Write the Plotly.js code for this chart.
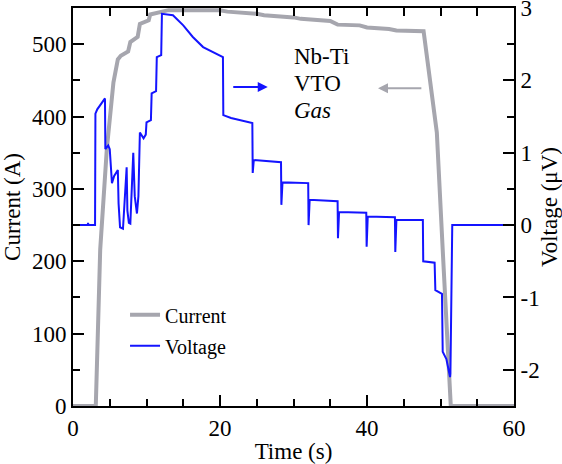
<!DOCTYPE html>
<html>
<head>
<meta charset="utf-8">
<script src="https://cdn.plot.ly/plotly-3.0.1.min.js"></script>
<style>html,body{margin:0;padding:0;background:#fff;}#chart{width:562px;height:464px;}</style>
</head>
<body>
<div id="chart"></div>
<script>
// Current (A) vs time (s)
const currentTime = [0, 3.1, 3.7, 4.6, 5.5, 6.1, 6.5, 7.5, 7.8, 8.8, 9.1, 10.3, 10.5, 11.8, 13, 20, 21, 25, 26, 30, 31, 35, 36, 39, 40, 43, 44, 47.7, 48.5, 49.5, 50.3, 51.4, 60];
const currentA    = [0, 0,   216, 355, 447, 479, 484, 490, 503, 510, 528, 533,  541,  544,  547, 547, 545, 542, 540, 537, 535, 532, 527, 526, 523, 521, 519, 518, 460, 378, 216, 0, 0];

// Voltage (µV) vs time (s)
const voltageTime = [0, 2.0, 2.05, 2.1, 3.0, 3.05, 3.3, 4.35, 4.4, 4.8, 5.0, 5.3, 5.6, 6.1, 6.2, 6.4, 6.8, 7.0, 7.3, 7.4, 7.6, 7.8, 8.0, 8.2, 8.4, 8.7, 8.9, 9.1, 9.6, 9.9, 10.0, 10.6, 10.7, 11.3, 11.4, 12.0, 12.1, 13.6, 15.0, 16.3, 17.7, 18.5, 19.6, 20.4, 20.45, 21.5, 24.4, 24.45, 24.6, 28.3, 28.35, 28.5, 32.0, 32.05, 32.2, 36.0, 36.05, 36.2, 39.9, 39.95, 40.1, 43.8, 43.85, 44.0, 47.6, 47.65, 49.2, 49.3, 50.2, 50.3, 50.8, 51.3, 51.35, 51.6, 60];
const voltageUV   = [0, 0,   0.03, 0,   0,   1.54, 1.6, 1.75, 1.05, 1.1, 1.05, 0.58, 0.68, 0.76, 0.3, -0.03, -0.05, 0.3, 0.8, 0.2, 0.03, 0.02, 0.5, 1.0, 0.4, 0.16, 0.4, 1.28, 1.2, 1.25, 1.42, 1.45, 1.82, 1.85, 2.32, 2.35, 2.92, 2.9, 2.76, 2.6, 2.46, 2.42, 2.37, 2.32, 1.52, 1.48, 1.41, 0.72, 0.9, 0.87, 0.28, 0.59, 0.58, 0.0, 0.35, 0.33, -0.18, 0.18, 0.17, -0.3, 0.12, 0.11, -0.37, 0.07, 0.07, -0.5, -0.52, -0.9, -0.95, -1.75, -1.85, -2.1, -2.05, 0, 0];

const xTickVals = [0, 20, 40, 60];
const xMinorVals = [5, 10, 15, 25, 30, 35, 45, 50, 55];
const xTopVals = [5, 10, 15, 20, 25, 30, 35, 40, 45, 50, 55];
const yTickVals = [0, 100, 200, 300, 400, 500];
const yMinorVals = [50, 150, 250, 350, 450];
const y2TickVals = [-2, -1, 0, 1, 2, 3];
const y2TickText = ["-2", "-1", "0", "1", "2", "3"];
const y2MinorVals = [-2.5, -1.5, -0.5, 0.5, 1.5, 2.5];
const labelLines = ["Nb-Ti", "VTO", "<i>Gas</i>"];
const labelY = [483, 446, 408];

const FONT = "Liberation Serif, Times New Roman, serif";
const GRAY = "#a6a6ae";
const BLUE = "#1414ff";
const X_RANGE = [0, 60], Y_RANGE = [0, 550], Y2_RANGE = [-2.5, 3];

const traces = [
  {x: currentTime, y: currentA, type: "scatter", mode: "lines", name: "Current",
   line: {color: GRAY, width: 4}, xaxis: "x", yaxis: "y", legendgroup: "a"},
  {x: voltageTime, y: voltageUV, type: "scatter", mode: "lines", name: "Voltage",
   line: {color: BLUE, width: 2}, xaxis: "x", yaxis: "y2", legendgroup: "b"},
  // empty helper traces so the tick-only axes are laid out
  {x: [], y: [], type: "scatter", mode: "lines", xaxis: "x2", yaxis: "y", showlegend: false, hoverinfo: "skip"},
  {x: [], y: [], type: "scatter", mode: "lines", xaxis: "x3", yaxis: "y", showlegend: false, hoverinfo: "skip"},
  {x: [], y: [], type: "scatter", mode: "lines", xaxis: "x", yaxis: "y3", showlegend: false, hoverinfo: "skip"},
  {x: [], y: [], type: "scatter", mode: "lines", xaxis: "x", yaxis: "y4", showlegend: false, hoverinfo: "skip"}
];

const axisCommon = {
  showline: true, linecolor: "black", linewidth: 2,
  ticks: "inside", ticklen: 11, tickwidth: 2, tickcolor: "black",
  showgrid: false, zeroline: false, ticklabeloverflow: "allow",
  tickfont: {family: FONT, size: 23, color: "black"}
};
function tickOnly(extra) {
  return Object.assign({showline: false, ticks: "inside", ticklen: 7, tickwidth: 2, tickcolor: "black",
    showgrid: false, zeroline: false, showticklabels: false, tickmode: "array"}, extra);
}

const annotations = labelLines.map((t, i) => ({
  x: 29.8, y: labelY[i], xref: "x", yref: "y", text: t, showarrow: false,
  xanchor: "left", yanchor: "middle", font: {family: FONT, size: 23, color: "black"}
}));
annotations.push({x: 26.5, y: 441, ax: 21.6, ay: 441, xref: "x", yref: "y", axref: "x", ayref: "y",
  text: "", showarrow: true, arrowhead: 2, arrowsize: 1, arrowwidth: 2, arrowcolor: BLUE});
annotations.push({x: 41.5, y: 439, ax: 47.6, ay: 439, xref: "x", yref: "y", axref: "x", ayref: "y",
  text: "", showarrow: true, arrowhead: 2, arrowsize: 1, arrowwidth: 2, arrowcolor: GRAY});

const layout = {
  width: 562, height: 464,
  margin: {l: 73, r: 48, t: 8, b: 58},
  paper_bgcolor: "white", plot_bgcolor: "white",
  font: {family: FONT, size: 23, color: "black"},
  showlegend: true,
  legend: {x: 0.118, y: 0.278, xanchor: "left", yanchor: "top", bgcolor: "rgba(0,0,0,0)",
    font: {family: FONT, size: 20, color: "black"}, traceorder: "grouped", tracegroupgap: 2},
  xaxis: Object.assign({}, axisCommon, {
    range: X_RANGE, tickmode: "array", tickvals: xTickVals,
    title: {text: "Time (s)", font: {family: FONT, size: 23}, standoff: 9}
  }),
  // top frame line with ticks every 5 s
  xaxis2: tickOnly({overlaying: "x", side: "top", anchor: "y", range: X_RANGE, tickvals: xTopVals,
    ticklen: 8, showline: true, linecolor: "black", linewidth: 2}),
  // bottom minor ticks
  xaxis3: tickOnly({overlaying: "x", side: "bottom", anchor: "y", range: X_RANGE, tickvals: xMinorVals}),
  yaxis: Object.assign({}, axisCommon, {
    range: Y_RANGE, tickmode: "array", tickvals: yTickVals,
    title: {text: "Current (A)", font: {family: FONT, size: 23}, standoff: 6}
  }),
  yaxis2: Object.assign({}, axisCommon, {
    range: Y2_RANGE, tickmode: "array", tickvals: y2TickVals, ticktext: y2TickText,
    overlaying: "y", side: "right", anchor: "x",
    title: {text: "Voltage (μV)", font: {family: FONT, size: 23}, standoff: 6}
  }),
  // left minor ticks
  yaxis3: tickOnly({overlaying: "y", side: "left", anchor: "x", range: Y_RANGE, tickvals: yMinorVals}),
  // right minor ticks
  yaxis4: tickOnly({overlaying: "y", side: "right", anchor: "x", range: Y2_RANGE, tickvals: y2MinorVals}),
  annotations: annotations
};

Plotly.newPlot("chart", traces, layout, {displayModeBar: false, staticPlot: true});
</script>
</body>
</html>
